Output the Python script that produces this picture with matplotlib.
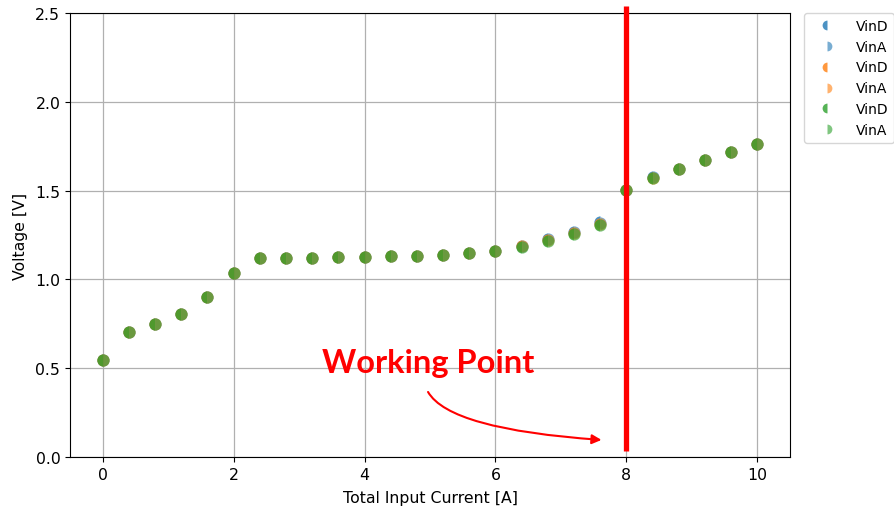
import matplotlib
matplotlib.use("Agg")
import matplotlib.pyplot as plt

current = [0.0, 0.4, 0.8, 1.2, 1.6, 2.0, 2.4, 2.8, 3.2, 3.6, 4.0, 4.4, 4.8,
           5.2, 5.6, 6.0, 6.4, 6.8, 7.2, 7.6, 8.0, 8.4, 8.8, 9.2, 9.6, 10.0]

vind_1 = [0.546, 0.704, 0.749, 0.806, 0.899, 1.036, 1.121, 1.121, 1.122, 1.125,
          1.128, 1.131, 1.134, 1.137, 1.146, 1.160, 1.188, 1.230, 1.268, 1.322,
          1.504, 1.574, 1.622, 1.672, 1.717, 1.762]
vina_1 = [0.546, 0.704, 0.749, 0.806, 0.899, 1.036, 1.121, 1.121, 1.122, 1.125,
          1.128, 1.131, 1.134, 1.137, 1.146, 1.160, 1.188, 1.228, 1.266, 1.320,
          1.504, 1.574, 1.622, 1.672, 1.717, 1.762]
vind_2 = [0.546, 0.704, 0.749, 0.806, 0.899, 1.036, 1.121, 1.121, 1.122, 1.125,
          1.128, 1.131, 1.134, 1.137, 1.146, 1.160, 1.186, 1.222, 1.262, 1.314,
          1.504, 1.573, 1.622, 1.672, 1.717, 1.762]
vina_2 = [0.546, 0.704, 0.749, 0.806, 0.899, 1.036, 1.121, 1.121, 1.122, 1.125,
          1.128, 1.131, 1.134, 1.137, 1.146, 1.160, 1.186, 1.222, 1.262, 1.314,
          1.504, 1.573, 1.622, 1.672, 1.717, 1.762]
vind_3 = [0.546, 0.704, 0.749, 0.806, 0.899, 1.036, 1.121, 1.121, 1.122, 1.125,
          1.128, 1.131, 1.134, 1.137, 1.146, 1.160, 1.185, 1.217, 1.256, 1.306,
          1.503, 1.571, 1.621, 1.672, 1.717, 1.762]
vina_3 = [0.546, 0.704, 0.749, 0.806, 0.899, 1.036, 1.121, 1.121, 1.122, 1.125,
          1.128, 1.131, 1.134, 1.137, 1.146, 1.160, 1.185, 1.217, 1.256, 1.306,
          1.503, 1.571, 1.621, 1.672, 1.717, 1.762]

series = [
    ("VinD", vind_1, "#1f77b4", "left", 0.8),
    ("VinA", vina_1, "#1f77b4", "right", 0.6),
    ("VinD", vind_2, "#ff7f0e", "left", 0.8),
    ("VinA", vina_2, "#ff7f0e", "right", 0.6),
    ("VinD", vind_3, "#2ca02c", "left", 0.8),
    ("VinA", vina_3, "#2ca02c", "right", 0.6),
]

working_point = 8.0
annot_text = "Working Point"

fig = plt.figure(figsize=(8.95, 5.10), dpi=100)
ax = fig.add_axes([0.0782, 0.102, 0.8045, 0.8705])

for label, vals, col, fs, a in series:
    ax.plot(current, vals, linestyle="none", marker="o", markersize=8.8,
            fillstyle=fs, markerfacecolor=col, markerfacecoloralt="none",
            markeredgewidth=0, alpha=a, label=label)

ax.set_xlim(-0.5, 10.5)
ax.set_ylim(0, 2.5)
ax.grid(True, color="#b0b0b0", linewidth=0.9)
ax.set_axisbelow(True)
ax.set_xlabel("Total Input Current [A]", fontsize=11.3, labelpad=6)
ax.set_ylabel("Voltage [V]", fontsize=11.3, labelpad=5)
ax.tick_params(labelsize=11.3)

ax.plot([working_point, working_point], [0.034, 2.54], color="red",
        linewidth=3.8, clip_on=False, solid_capstyle="butt", zorder=5)

ax.text(4.97, 0.479, annot_text, color="red", fontsize=23.5, fontweight="bold",
        family="Lato", ha="center", va="baseline", zorder=6)
ax.annotate("", xy=(7.62, 0.096), xytext=(4.97, 0.366),
            arrowprops=dict(arrowstyle="-|>", color="red", lw=1.5,
                            mutation_scale=14,
                            connectionstyle="angle3,angleA=-60,angleB=-4",
                            shrinkA=0, shrinkB=0), zorder=6)

ax.legend(loc="upper left", bbox_to_anchor=(1.02, 1.0), borderaxespad=0,
          markerscale=0.8, handlelength=2.5, fontsize=10, frameon=True)

fig.savefig("out.png", dpi=100)
